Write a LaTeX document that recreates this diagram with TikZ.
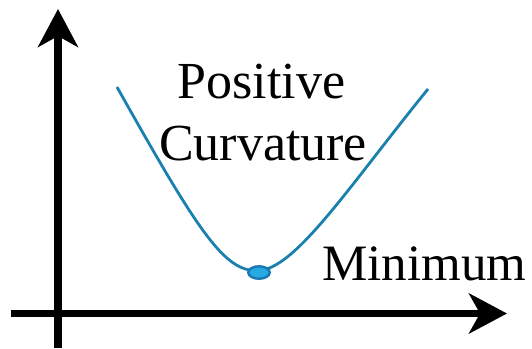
\documentclass[tikz,border=0pt]{standalone}
\usepackage{fontspec}
\setmainfont{LiberationSerif-Regular.ttf}
\usetikzlibrary{arrows.meta,shapes.geometric}
\definecolor{curve}{HTML}{1A80AD}
\definecolor{dotfill}{HTML}{27AAE1}
\definecolor{dotline}{HTML}{1C78B4}

\begin{document}
\begin{tikzpicture}[x=1pt,y=-1pt,
    axis/.style={line width=7.5pt,-{Stealth[length=38pt,width=40pt,inset=11pt]}},
    label/.style={inner sep=0pt,anchor=base,font=\fontsize{52}{62}\selectfont}]
  \useasboundingbox (0,0) rectangle (532,348);
  % axes
  \coordinate (yfoot) at (58,348);
  \coordinate (ytop) at (58,9);
  \coordinate (xfoot) at (11,313.5);
  \coordinate (xtop) at (507,313.5);
  \draw[axis] (yfoot) -- (ytop);
  \draw[axis] (xfoot) -- (xtop);
  % curve and its lowest point
  \coordinate (cl) at (117,87);
  \coordinate (cb) at (258,270.5);
  \coordinate (cr) at (428,89);
  \draw[curve,line width=2.8pt] (cl) .. controls (200,235) and (225,272) .. (cb)
    .. controls (295,270) and (350,185) .. (cr);
  \node[ellipse,draw=dotline,fill=dotfill,line width=2.4pt,inner sep=0pt,
    minimum width=21.5pt,minimum height=12.5pt] (min) at (259,272.5) {};
  % labels
  \node[label] (pos) at (261.5,98) {Positive};
  \node[label] (curv) at (263,160) {Curvature};
  \node[label,anchor=base west,font=\fontsize{51}{60}\selectfont] (minlbl) at (322,280) {Minimum};
\end{tikzpicture}
\end{document}
